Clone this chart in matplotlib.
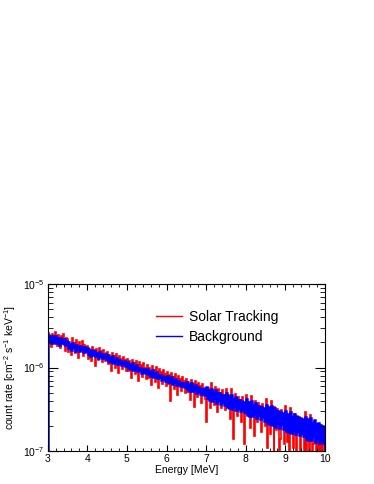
import numpy as np
import matplotlib
matplotlib.use("Agg")
import matplotlib.pyplot as plt
from matplotlib.ticker import MultipleLocator, LogLocator, NullFormatter

plt.rcParams['font.family'] = ['Liberation Sans', 'DejaVu Sans']
plt.rcParams['mathtext.fontset'] = 'custom'
plt.rcParams['mathtext.rm'] = 'Liberation Sans'
plt.rcParams['mathtext.it'] = 'Liberation Sans:italic'

# Energy binning [MeV], 0.025 MeV bins
e_lo = 3.0
e_hi = 10.0
n_bins = 280

# count rates in units of 1e-8 cm^-2 s^-1 keV^-1
solar = [
    262, 198, 241, 178, 255, 221, 190, 268, 204, 183, 247, 215, 170, 236, 192, 251, 185, 160, 229, 201,
    219, 152, 201, 188, 143, 226, 171, 195, 148, 213, 166, 129, 200, 175, 158, 207, 139, 184, 163, 149,
    183, 128, 166, 151, 119, 178, 140, 163, 104, 169, 147, 125, 174, 133, 158, 116, 161, 142, 121, 150,
    152, 109, 141, 126, 92, 149, 118, 137, 100, 146, 121, 86, 139, 113, 128, 95, 135, 104, 124, 90,
    128, 91, 119, 104, 76, 125, 97, 113, 84, 121, 99, 70, 116, 92, 106, 78, 112, 87, 100, 74,
    107, 76, 98, 86, 62, 104, 81, 94, 68, 101, 79, 57, 97, 75, 88, 64, 93, 71, 84, 60,
    89, 63, 82, 71, 40, 87, 67, 78, 55, 84, 65, 47, 80, 60, 73, 52, 77, 58, 69, 49,
    74, 51, 68, 59, 41, 72, 55, 64, 34, 70, 53, 44, 66, 49, 61, 38, 64, 47, 57, 42,
    22, 43, 57, 48, 33, 66, 45, 53, 36, 58, 44, 29, 55, 41, 50, 33, 54, 39, 47, 31,
    56, 35, 47, 40, 24, 55, 37, 14, 30, 48, 36, 26, 45, 33, 41, 22, 44, 31, 12, 28,
    47, 29, 39, 33, 19, 46, 30, 36, 15, 40, 29, 22, 38, 27, 34, 17, 37, 25, 31, 20,
    42, 11, 33, 27, 16, 40, 25, 30, 9.5, 34, 24, 18, 32, 22, 8.5, 14, 31, 21, 26, 12,
    35, 20, 13, 27, 9, 33, 21, 25, 11, 28, 19, 8, 26, 17, 23, 10, 25, 16, 21, 7.5,
    29, 9, 22, 17, 7.5, 27, 15, 8, 12, 23, 16, 6.5, 21, 10, 18, 7, 20, 9.5, 14, 19,
]
background = [
    248, 212, 231, 199, 240, 205, 219, 236, 196, 227, 210, 189, 225, 203, 214, 195, 221, 187, 208, 198,
    205, 171, 192, 180, 163, 198, 175, 184, 160, 189, 170, 178, 156, 181, 165, 172, 153, 176, 161, 158,
    170, 146, 158, 139, 163, 149, 141, 157, 136, 150, 144, 132, 153, 138, 146, 129, 142, 135, 147, 126,
    140, 121, 133, 117, 128, 136, 113, 125, 119, 130, 110, 124, 115, 121, 107, 118, 112, 120, 104, 113,
    117, 99, 110, 95, 104, 112, 93, 101, 97, 106, 90, 100, 94, 98, 87, 96, 91, 95, 85, 92,
    97, 83, 91, 79, 87, 93, 77, 84, 80, 88, 75, 82, 78, 81, 72, 80, 75, 78, 70, 76,
    80, 68, 76, 66, 72, 77, 64, 70, 67, 73, 62, 69, 65, 68, 60, 66, 62, 65, 58, 63,
    68, 55, 64, 53, 61, 65, 52, 59, 54, 62, 50, 58, 53, 57, 48, 56, 50, 55, 47, 52,
    58, 43, 54, 41, 52, 56, 40, 50, 43, 54, 38, 49, 41, 49, 37, 47, 39, 47, 36, 44,
    49, 34, 46, 33, 44, 47, 32, 42, 35, 45, 31, 41, 33, 41, 30, 40, 32, 39, 29, 37,
    42, 27, 39, 26, 37, 40, 26, 35, 28, 38, 25, 35, 27, 35, 24, 34, 26, 33, 23, 31,
    36, 21.5, 33.5, 21, 32, 34.5, 20.5, 30.5, 22.5, 33, 19.5, 30, 21.5, 30, 19, 29, 21, 28.5, 18.5, 27,
    30.5, 17.5, 28, 17, 27, 29.5, 16.5, 25.5, 18, 28, 16, 25.5, 17.5, 25.5, 15.5, 24.5, 16.5, 24, 15, 23,
    25.5, 14, 24, 13.5, 23, 25, 13.5, 21.5, 15, 23.5, 13, 21, 14.5, 21.5, 12.5, 20.5, 13.5, 20, 12.5, 19.5,
]
unit = 1e-8

edges = np.linspace(e_lo, e_hi, n_bins + 1)
solar = np.array(solar) * unit
background = np.array(background) * unit

fig = plt.figure(figsize=(3.74, 4.84), dpi=100)
ax = fig.add_axes([0.1275, 0.068, 0.7415, 0.345])

ax.stairs(solar, edges, color='#ff0000', linewidth=1.2, label='Solar Tracking')
ax.stairs(background, edges, color='#0000ff', linewidth=1.8, label='Background')

ax.set_xlim(3, 10)
ax.set_yscale('log')
ax.set_ylim(1e-7, 1e-5)

ax.xaxis.set_major_locator(MultipleLocator(1))
ax.xaxis.set_minor_locator(MultipleLocator(0.2))
ax.yaxis.set_minor_locator(LogLocator(base=10, subs=np.arange(2, 10)))
ax.yaxis.set_minor_formatter(NullFormatter())

ax.tick_params(which='both', direction='in', top=True, right=True, labelsize=7.5, pad=2)
ax.tick_params(axis='x', which='major', length=4)
ax.tick_params(axis='x', which='minor', length=2)
ax.tick_params(axis='y', which='major', length=7)
ax.tick_params(axis='y', which='minor', length=3.5)

ax.set_xlabel("Energy [MeV]", fontsize=7.5, labelpad=1)
ax.set_ylabel("count rate [cm$^{-2}$ s$^{-1}$ keV$^{-1}$]", fontsize=7.5, labelpad=4)

leg = ax.legend(loc='upper left', bbox_to_anchor=(0.345, 0.92), frameon=False,
                fontsize=10, handlelength=1.9, handletextpad=0.5, labelspacing=0.45)
for h in leg.get_lines():
    h.set_linewidth(1.0)

fig.savefig("out.png", dpi=100)
